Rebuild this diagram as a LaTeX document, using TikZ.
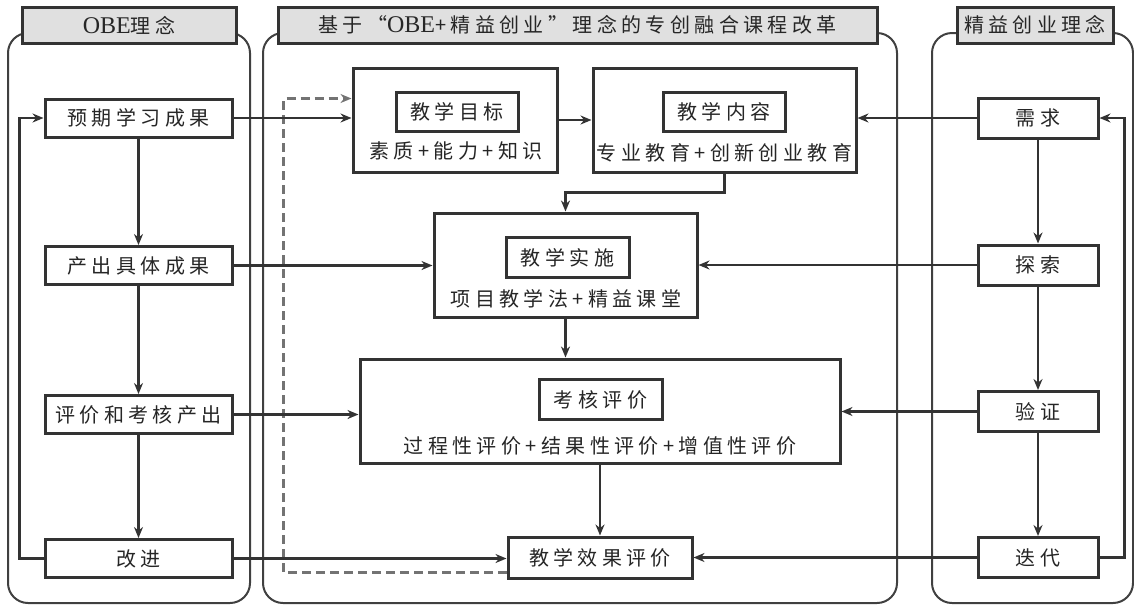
\documentclass[tikz,border=0pt]{standalone}
\usepackage{fontspec}
\newfontfamily\cjk[LetterSpace=22]{Noto Sans CJK SC}
\newfontfamily\latinf{Liberation Serif}
\newcommand\tf{\cjk\fontsize{20}{22}\selectfont}
\newcommand\latinpart[1]{{\latinf\fontsize{24}{22}\selectfont #1}}
\usetikzlibrary{arrows.meta,calc}
\begin{document}
\begin{tikzpicture}[x=1pt,y=-1pt,
  panel/.style={draw=black!75,line width=2pt,rounded corners=20pt},
  hdr/.style={draw=black!80,line width=3pt,fill=black!12,minimum height=36pt,inner sep=0pt,text=black!85,font=\tf},
  sbox/.style={draw=black!80,line width=3pt,fill=white,minimum height=38pt,inner sep=0pt,text=black!85,font=\tf},
  bigbox/.style={draw=black!80,line width=3pt,fill=white,minimum height=104pt,inner sep=0pt},
  lbl/.style={draw=black!80,line width=3pt,fill=white,minimum width=123pt,minimum height=40pt,inner sep=0pt,text=black!85,font=\tf},
  txt/.style={inner sep=0pt,text=black!85,font=\tf},
  arr/.style={draw=black!80,line width=2.6pt,-{Stealth[length=11pt,width=9pt]}},
  dsh/.style={draw=black!55,line width=2.6pt,dash pattern=on 9pt off 5pt,-{Stealth[length=11pt,width=9pt]}}
]
\useasboundingbox (0,0) rectangle (1134,606);
% panels
\draw[panel] (8,33) rectangle (250,603);
\draw[panel] (263,33) rectangle (897,603);
\draw[panel] (932,33) rectangle (1133,603);
% headers
\node[hdr,minimum width=214pt] (H1) at (129,25) {\latinpart{OBE}理念};
\node[hdr,minimum width=599pt] (H2) at (577.5,25) {基于“\latinpart{OBE}+精益创业”理念的专创融合课程改革};
\node[hdr,minimum width=156pt] (H3) at (1035,25) {精益创业理念};
% left column
\node[sbox,minimum width=187pt] (L1) at (138.5,118) {预期学习成果};
\node[sbox,minimum width=187pt] (L2) at (138.5,265.5) {产出具体成果};
\node[sbox,minimum width=187pt] (L3) at (138.5,414.5) {评价和考核产出};
\node[sbox,minimum width=187pt] (L4) at (138.5,558.5) {改进};
% right column
\node[sbox,minimum width=120pt,minimum height=40pt] (R1) at (1038,118) {需求};
\node[sbox,minimum width=120pt,minimum height=40pt] (R2) at (1038,265) {探索};
\node[sbox,minimum width=120pt,minimum height=40pt] (R3) at (1038,411.5) {验证};
\node[sbox,minimum width=120pt,minimum height=40pt] (R4) at (1038,557.5) {迭代};
% middle
\node[bigbox,minimum width=204pt] (M1) at (455,120) {};
\node[lbl,minimum width=122pt,minimum height=39pt] (M1l) at (457,111.5) {教学目标};
\node[txt] (M1t) at (456,151) {素质+能力+知识};
\node[bigbox,minimum width=263pt] (M2) at (724.5,120) {};
\node[lbl,minimum width=122pt,minimum height=39pt] (M2l) at (724,111.5) {教学内容};
\node[txt] (M2t) at (724.5,153) {专业教育+创新创业教育};
\node[bigbox,minimum width=263pt] (M3) at (565.5,265) {};
\node[lbl] (M3l) at (567.5,257.5) {教学实施};
\node[txt] (M3t) at (566,299) {项目教学法+精益课堂};
\node[bigbox,minimum width=480pt] (M4) at (600,411) {};
\node[lbl] (M4l) at (600.5,399.5) {考核评价};
\node[txt] (M4t) at (600,446) {过程性评价+结果性评价+增值性评价};
\node[sbox,minimum width=184pt,minimum height=41pt] (M5) at (600,557.5) {教学效果评价};
% dashed feedback
\draw[dsh] ([yshift=7pt]M5.south west) -| ([xshift=-68pt,yshift=-32pt]M1.north west) -- ([yshift=-32pt]M1.north west);
% left column arrows
\draw[arr] (L1.south) -- (L2.north);
\draw[arr] (L2.south) -- (L3.north);
\draw[arr] (L3.south) -- (L4.north);
\draw[arr] (L4.west) -- ++(-24,0) |- (L1.west);
% right column arrows
\draw[arr] (R1.south) -- (R2.north);
\draw[arr] (R2.south) -- (R3.north);
\draw[arr] (R3.south) -- (R4.north);
\draw[arr] (R4.east) -- ++(25,0) |- (R1.east);
% left to middle
\draw[arr] (L1.east) -- (L1.east -| M1.west);
\draw[arr] (L2.east) -- (L2.east -| M3.west);
\draw[arr] (L3.east) -- (L3.east -| M4.west);
\draw[arr] (L4.east) -- (L4.east -| M5.west);
% right to middle
\draw[arr] (R1.west) -- (R1.west -| M2.east);
\draw[arr] (R2.west) -- (R2.west -| M3.east);
\draw[arr] (R3.west) -- (R3.west -| M4.east);
\draw[arr] (R4.west) -- (R4.west -| M5.east);
% middle flow
\draw[arr] (M1.east) -- (M2.west);
\draw[arr] (M2.south) -- ++(0,19) -| (M3.north);
\draw[arr] (M3.south) -- (M3.south |- M4.north);
\draw[arr] (M4.south) -- (M5.north);
\end{tikzpicture}
\end{document}
